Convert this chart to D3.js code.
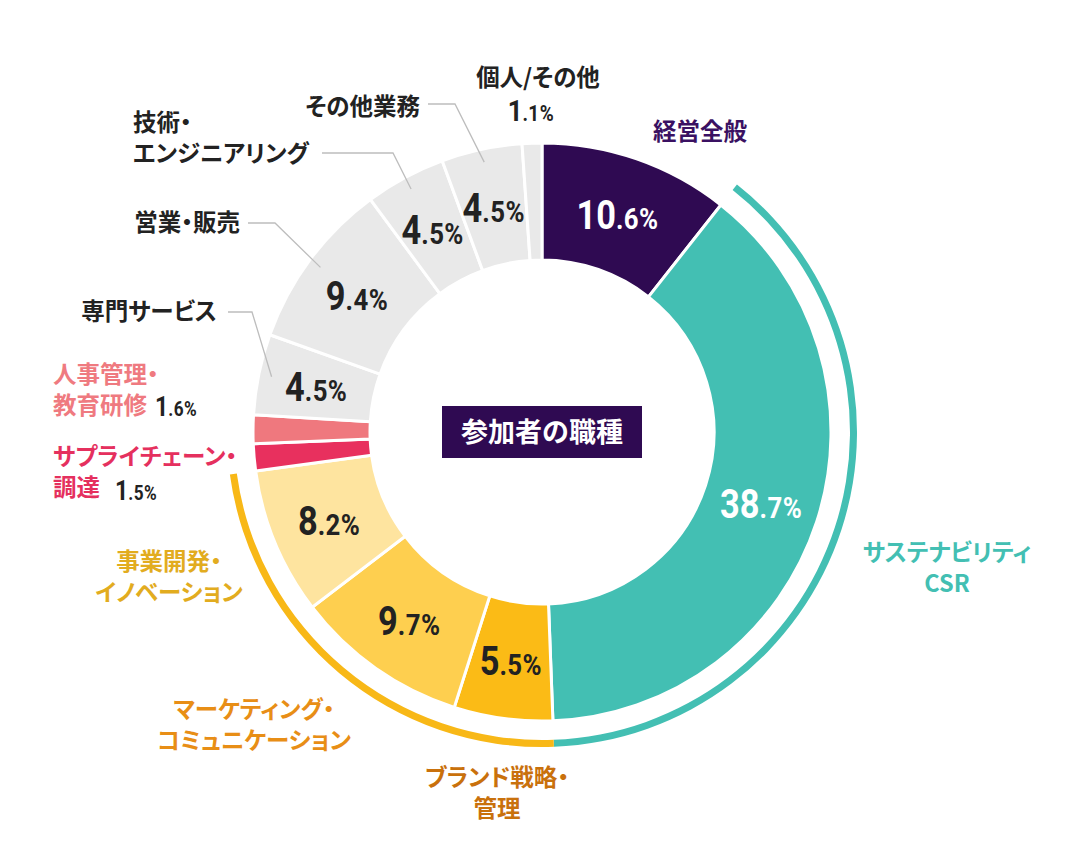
<!DOCTYPE html>
<html><head><meta charset="utf-8">
<script src="https://cdn.jsdelivr.net/npm/d3@7/dist/d3.min.js"></script>
<style>
html,body{margin:0;padding:0;background:#fff;}
svg{display:block;}
text{font-family:"Noto Sans CJK JP","Noto Sans",sans-serif;font-weight:700;}
.lab{font-feature-settings:"palt";}
.num{font-family:Roboto,"Noto Sans",sans-serif;font-weight:700;}
</style></head>
<body>
<svg id="chart" width="1084" height="864"></svg>
<script>
// ---- data ----
const categories = ["経営全般","サステナビリティCSR","ブランド戦略・管理","マーケティング・コミュニケーション","事業開発・イノベーション","サプライチェーン・調達","人事管理・教育研修","専門サービス","営業・販売","技術・エンジニアリング","その他業務","個人/その他"];
const values = [10.6, 38.7, 5.5, 9.7, 8.2, 1.5, 1.6, 4.5, 9.4, 4.5, 4.5, 1.1];
const sliceColors = ["#2f0a52","#43bfb3","#fbbb16","#fecf4f","#fee49f","#e8305e","#ef787e","#e9e9e9","#e9e9e9","#e9e9e9","#e9e9e9","#e9e9e9"];
const pctColors = ["#fff","#fff","#222","#222","#222","#222","#222","#222","#222","#222","#222","#222"];
const labelLines = [["経営全般"],["サステナビリティ","CSR"],["ブランド戦略・","管理"],["マーケティング・","コミュニケーション"],["事業開発・","イノベーション"],["サプライチェーン・","調達"],["人事管理・","教育研修"],["専門サービス"],["営業・販売"],["技術・","エンジニアリング"],["その他業務"],["個人/その他"]];
const labelColors = ["#3a1162","#43bfb3","#c9710c","#e88e16","#e2ac1f","#e5305e","#ef7a80","#222","#222","#222","#222","#222"];
const groupRings = [{from:1,to:1,color:"#43bfb3"},{from:2,to:4,color:"#f8b817"}];
const centerTitle = "参加者の職種";

// ---- layout (positions / styles) ----
const W = 1084, H = 864, cx = 542, cy = 432;
const rOuter = 289, rInner = 172, ringR = 311.5, ringW = 7;
// where each label goes: [x, baselineY of first line, anchor]
const labelPos = [
  [700,140,"middle"],[947,561,"middle"],[497,786,"middle"],[254,718,"middle"],[169,570,"middle"],
  [53,465,"start"],[53,383,"start"],[217,320,"end"],[240,231,"end"],[133,131,"start"],[420,115,"end"],[538,86,"middle"]
];
const lineH = 31;
const labelSize = 23.5;
// outside value labels for small slices: [x, baselineY, anchor, size]
const outsidePct = {5:[115,500,"start",27], 6:[155,416,"start",27], 11:[null,null,"middle",30]};
// leader lines: [labelEndX, y, elbowX]
const leaders = {10:[428,104,455], 9:[322,153,393], 8:[248,223,275], 7:[228,312,252]};
const pctScaleX = 0.86;

const svg = d3.select("#chart");
const g = svg.append("g").attr("transform",`translate(${cx},${cy})`);

const pie = d3.pie().sort(null).value(d=>d)(values);
const arc = d3.arc().innerRadius(rInner).outerRadius(rOuter);

g.selectAll("path.slice").data(pie).join("path")
  .attr("class","slice")
  .attr("d",arc)
  .attr("fill",(d,i)=>sliceColors[i])
  .attr("stroke","#fff").attr("stroke-width",3).attr("stroke-linejoin","miter");

// group rings
const ringArc = d3.arc().innerRadius(ringR-ringW/2).outerRadius(ringR+ringW/2);
groupRings.forEach(r=>{
  g.append("path").attr("d",ringArc({startAngle:pie[r.from].startAngle,endAngle:pie[r.to].endAngle}))
   .attr("fill",r.color);
});

// leader lines
Object.entries(leaders).forEach(([i,[x0,y,xe]])=>{
  const d = pie[i];
  const mid = (d.startAngle+d.endAngle)/2;
  const px = cx + 276*Math.sin(mid), py = cy - 276*Math.cos(mid);
  svg.append("path").attr("d",`M${x0},${y}L${xe},${y}L${px},${py}`)
    .attr("fill","none").attr("stroke","#bdbdbd").attr("stroke-width",1.3);
});

function pctText(parent, x, y, anchor, color, v, big){
  const s = v.toFixed(1);
  const [a,b] = s.split(".");
  const t = parent.append("text").attr("class","num")
    .attr("transform",`translate(${x},${y}) scale(${pctScaleX},1)`)
    .attr("text-anchor",anchor).attr("fill",color);
  t.append("tspan").attr("font-size",big).text(a);
  t.append("tspan").attr("font-size",Math.round(big*0.74)).attr("letter-spacing",0.5).text("."+b+"%");
}

// in-slice percentages
pie.forEach((d,i)=>{
  if (outsidePct[i]) return;
  const [x,y] = arc.centroid(d);
  pctText(g, x, y+15, "middle", pctColors[i], values[i], 40);
});

// outside percentages
Object.entries(outsidePct).forEach(([i,[x,y,anchor,size]])=>{
  const d = pie[i];
  if (x===null){
    const mid = (d.startAngle+d.endAngle)/2;
    x = cx + 322*Math.sin(mid); y = cy - 322*Math.cos(mid) + 11;
  }
  pctText(svg, x, y, anchor, "#222", values[i], size);
});

// category labels
labelLines.forEach((lines,i)=>{
  const [x,y,anchor] = labelPos[i];
  const t = svg.append("text").attr("class","lab").attr("text-anchor",anchor).attr("fill",labelColors[i]).attr("font-size",labelSize);
  lines.forEach((ln,k)=>{
    t.append("tspan").attr("x",x).attr("y",y+k*lineH).text(ln);
  });
});

// center title
const bw = 200, bh = 52;
svg.append("rect").attr("x",cx-bw/2).attr("y",cy-bh/2).attr("width",bw).attr("height",bh).attr("fill","#2f0a52");
svg.append("text").attr("x",cx).attr("y",cy+10).attr("text-anchor","middle").attr("fill","#fff")
  .attr("font-size",27).text(centerTitle);
</script>
</body></html>
